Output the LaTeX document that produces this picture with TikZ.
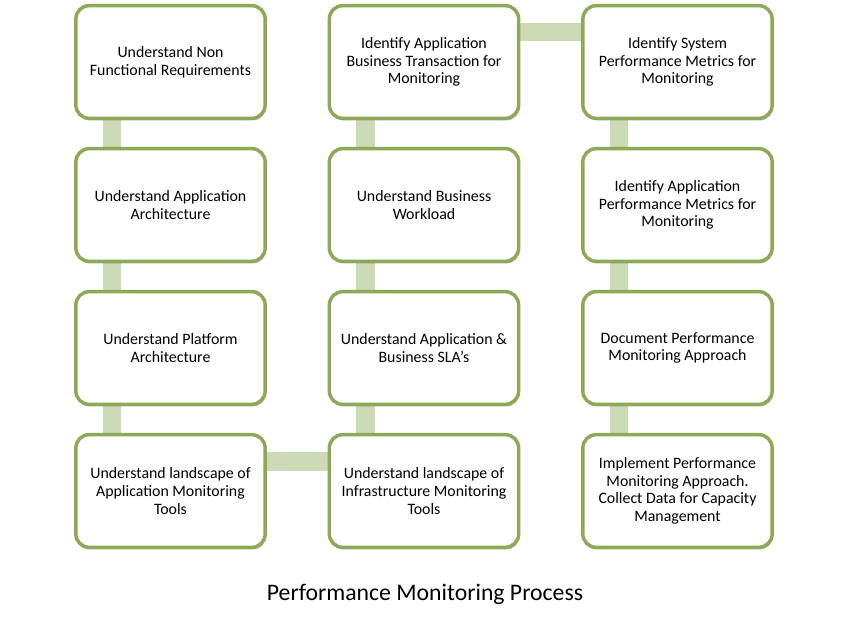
\documentclass[tikz,border=0pt]{standalone}
\usepackage{fontspec}
\setmainfont{Carlito}
\usetikzlibrary{shadows,backgrounds,positioning}
\definecolor{boxedge}{HTML}{8DA957}
\definecolor{connfill}{HTML}{CCDAB6}
\tikzset{
  stepbox/.style={draw=boxedge, line width=2.6pt, fill=white, rounded corners=10pt,
    minimum width=142pt, minimum height=84.5pt, align=center, inner sep=2pt,
    font=\fontsize{11.9}{13.2}\selectfont,
    drop shadow={shadow xshift=0.8pt, shadow yshift=-1.6pt, opacity=0.35, fill=black!70}},
  conn/.style={draw=connfill, line width=14pt},
}
\begin{document}
\begin{tikzpicture}[x=0.75pt, y=-0.75pt]
\useasboundingbox (0,0) rectangle (848,621);
% boxes
\node[stepbox] (a1) at (170.5,62) {Understand Non\\Functional Requirements};
\node[stepbox] (a2) at (170.5,205) {Understand Application\\Architecture};
\node[stepbox] (a3) at (170.5,348) {Understand Platform\\Architecture};
\node[stepbox] (a4) at (170.5,491) {Understand landscape of\\Application Monitoring\\Tools};
\node[stepbox] (b1) at (424,62) {Identify Application\\Business Transaction for\\Monitoring};
\node[stepbox] (b2) at (424,205) {Understand Business\\Workload};
\node[stepbox] (b3) at (424,348) {Understand Application \&\\Business SLA’s};
\node[stepbox] (b4) at (424,491) {Understand landscape of\\Infrastructure Monitoring\\Tools};
\node[stepbox] (c1) at (677.5,62) {Identify System\\Performance Metrics for\\Monitoring};
\node[stepbox] (c2) at (677.5,205) {Identify Application\\Performance Metrics for\\Monitoring};
\node[stepbox] (c3) at (677.5,348) {Document Performance\\Monitoring Approach};
\node[stepbox] (c4) at (677.5,491) {Implement Performance\\Monitoring Approach.\\Collect Data for Capacity\\Management};
% connectors
\begin{scope}[on background layer]
\foreach \u/\v in {a1/a2,a2/a3,a3/a4,b1/b2,b2/b3,b3/b4,c1/c2,c2/c3,c3/c4}{
  \draw[conn] ([xshift=28.5pt]\u.south west) -- ([xshift=28.5pt]\v.north west);
}
\draw[conn] ([yshift=-21.5pt]a4.north east) -- ([yshift=-21.5pt]b4.north west);
\draw[conn] ([yshift=-21pt]b1.north east) -- ([yshift=-21pt]c1.north west);
\end{scope}
% title
\node[font=\fontsize{17.8}{21}\selectfont] (title) at (425,594) {Performance Monitoring Process};
\end{tikzpicture}
\end{document}
